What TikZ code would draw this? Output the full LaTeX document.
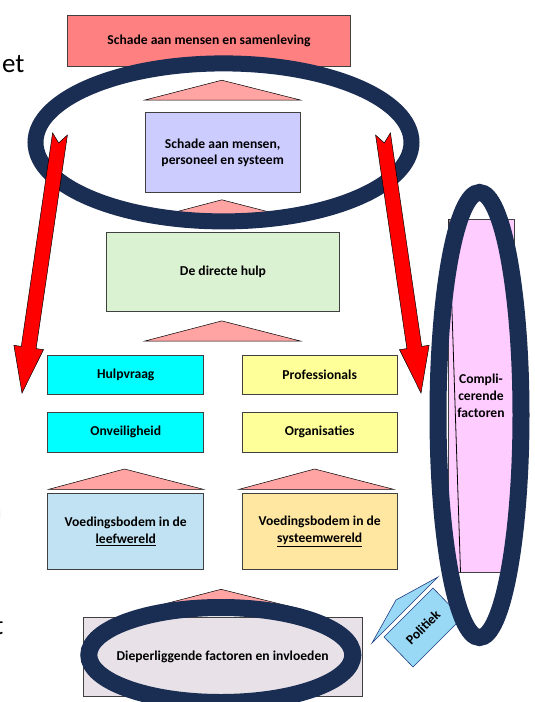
\documentclass[tikz,border=0pt]{standalone}
\usepackage{fontspec}
\setmainfont{Carlito}
\definecolor{boxline}{RGB}{64,64,64}
\definecolor{ringnavy}{RGB}{26,45,82}
\definecolor{arrowred}{RGB}{255,0,0}
\definecolor{tripink}{RGB}{255,163,163}
\definecolor{topred}{RGB}{255,128,128}
\definecolor{lavender}{RGB}{204,204,255}
\definecolor{palegreen}{RGB}{218,241,210}
\definecolor{aqua}{RGB}{0,255,255}
\definecolor{paleyellow}{RGB}{255,255,153}
\definecolor{paleblue}{RGB}{193,226,242}
\definecolor{paleorange}{RGB}{255,231,162}
\definecolor{greylilac}{RGB}{232,225,232}
\definecolor{palepink}{RGB}{255,204,255}
\definecolor{polblue}{RGB}{153,217,245}
\definecolor{polline}{RGB}{31,60,130}
\newcommand{\lblfont}{\fontsize{13.6}{16.8}\selectfont\bfseries}
\begin{document}
\begin{tikzpicture}[x=1pt,y=-1pt,
  box/.style={draw=boxline, line width=0.7pt, inner sep=0pt, outer sep=0pt,
              font=\lblfont, align=center, text=black},
  upmark/.style={draw=black, line width=0.5pt, fill=tripink},
  ring/.style={draw=ringnavy},
  bigarrow/.style={draw=black, line width=0.5pt, fill=arrowred, line join=miter},
  cutword/.style={inner sep=0pt, outer sep=0pt, font=\fontsize{27}{27}\selectfont}]

% canvas
\fill[white] (0,0) rectangle (535,702);
\useasboundingbox (0,0) rectangle (535,702);

% cut-off words at the left margin
\node[cutword, anchor=base east] (et) at (24.5,72) {et};
\node[cutword, anchor=base west] (nfrag) at (-12.5,518) {n};
\node[cutword, anchor=base west] (tfrag) at (-5.5,634) {t};

% central column
\node[box, fill=topred, minimum width=283.6pt, minimum height=51.5pt] (harm) at (209,40.75) {Schade aan mensen en samenleving};
\draw[upmark] (145,100) -- (221.8,80.2) -- (300.3,100) -- cycle;
\node[box, fill=lavender, minimum width=155.3pt, minimum height=80.2pt] (staff) at (222.65,152.7) {Schade aan mensen,\\personeel en systeem};
\draw[upmark] (145,220) -- (221.8,199.8) -- (300.3,220) -- cycle;
\node[box, fill=palegreen, minimum width=233pt, minimum height=79.2pt] (help) at (223,271.8) {De directe hulp};
\draw[upmark] (145,341) -- (221.8,320.9) -- (300.3,341) -- cycle;

% two columns
\node[box, fill=aqua, minimum width=155.9pt, minimum height=39.6pt] (ask) at (125.75,374.8) {Hulpvraag};
\node[box, fill=paleyellow, minimum width=155.6pt, minimum height=39.6pt] (prof) at (319.7,374.8) {Professionals};
\node[box, fill=aqua, minimum width=155.9pt, minimum height=39.9pt] (unsafe) at (125.75,432) {Onveiligheid};
\node[box, fill=paleyellow, minimum width=155.6pt, minimum height=39.9pt] (org) at (319.7,432) {Organisaties};
\draw[upmark] (48.4,489.4) -- (124.5,469) -- (203.7,489.4) -- cycle;
\draw[upmark] (238.8,489.4) -- (314.6,469) -- (394,489.4) -- cycle;
\node[box, fill=paleblue, minimum width=155.9pt, minimum height=76pt] (soilL) at (125.75,531.5) {Voedingsbodem in de\\\underline{leefwereld}};
\node[box, fill=paleorange, minimum width=155.6pt, minimum height=76pt] (soilR) at (319.7,531.5) {Voedingsbodem in de\\\underline{systeemwereld}};

% base
\draw[upmark] (145,609) -- (221,589.3) -- (300.3,609) -- cycle;
\node[box, fill=greylilac, minimum width=279.5pt, minimum height=79.5pt] (deep) at (222.65,657) {Dieperliggende factoren en invloeden};

% side column
\node[box, fill=palepink, minimum width=66pt, minimum height=353pt] (compl) at (481,395.5) {Compli-\\cerende\\factoren};
\draw[black, line width=0.8pt] (449,219) -- (460.5,572);

% politics block
\draw[draw=polline, line width=0.6pt, fill=polblue] (372,643) -- (396,600) -- (438,577) -- cycle;
\draw[draw=polline, line width=0.6pt, fill=polblue] (433,588) -- (462,618) -- (413,667) -- (384,637) -- cycle;
\node[font=\lblfont, rotate=45, inner sep=0pt] (pol) at (423,627.5) {Politiek};

% highlight rings
\draw[ring, line width=16pt] (223.5,142.4) ellipse [x radius=188pt, y radius=79pt];
\draw[ring, line width=17pt] (479.5,415) ellipse [x radius=41.5pt, y radius=222.5pt];
\draw[ring, line width=17pt] (220.8,655) ellipse [x radius=132pt, y radius=47.5pt];

% red arrows
\draw[bigarrow] (52.6,132.9) -- (58.7,142.9) -- (67.4,135.1) -- (36.1,348.6) -- (43.5,349.7)
  -- (22,393) -- (13.9,345.3) -- (21.3,346.4) -- cycle;
\draw[bigarrow] (390.4,132.9) -- (384.3,142.9) -- (375.6,135.1) -- (406.9,348.6) -- (399.5,349.7)
  -- (421,393) -- (429.1,345.3) -- (421.7,346.4) -- cycle;
\end{tikzpicture}
\end{document}
